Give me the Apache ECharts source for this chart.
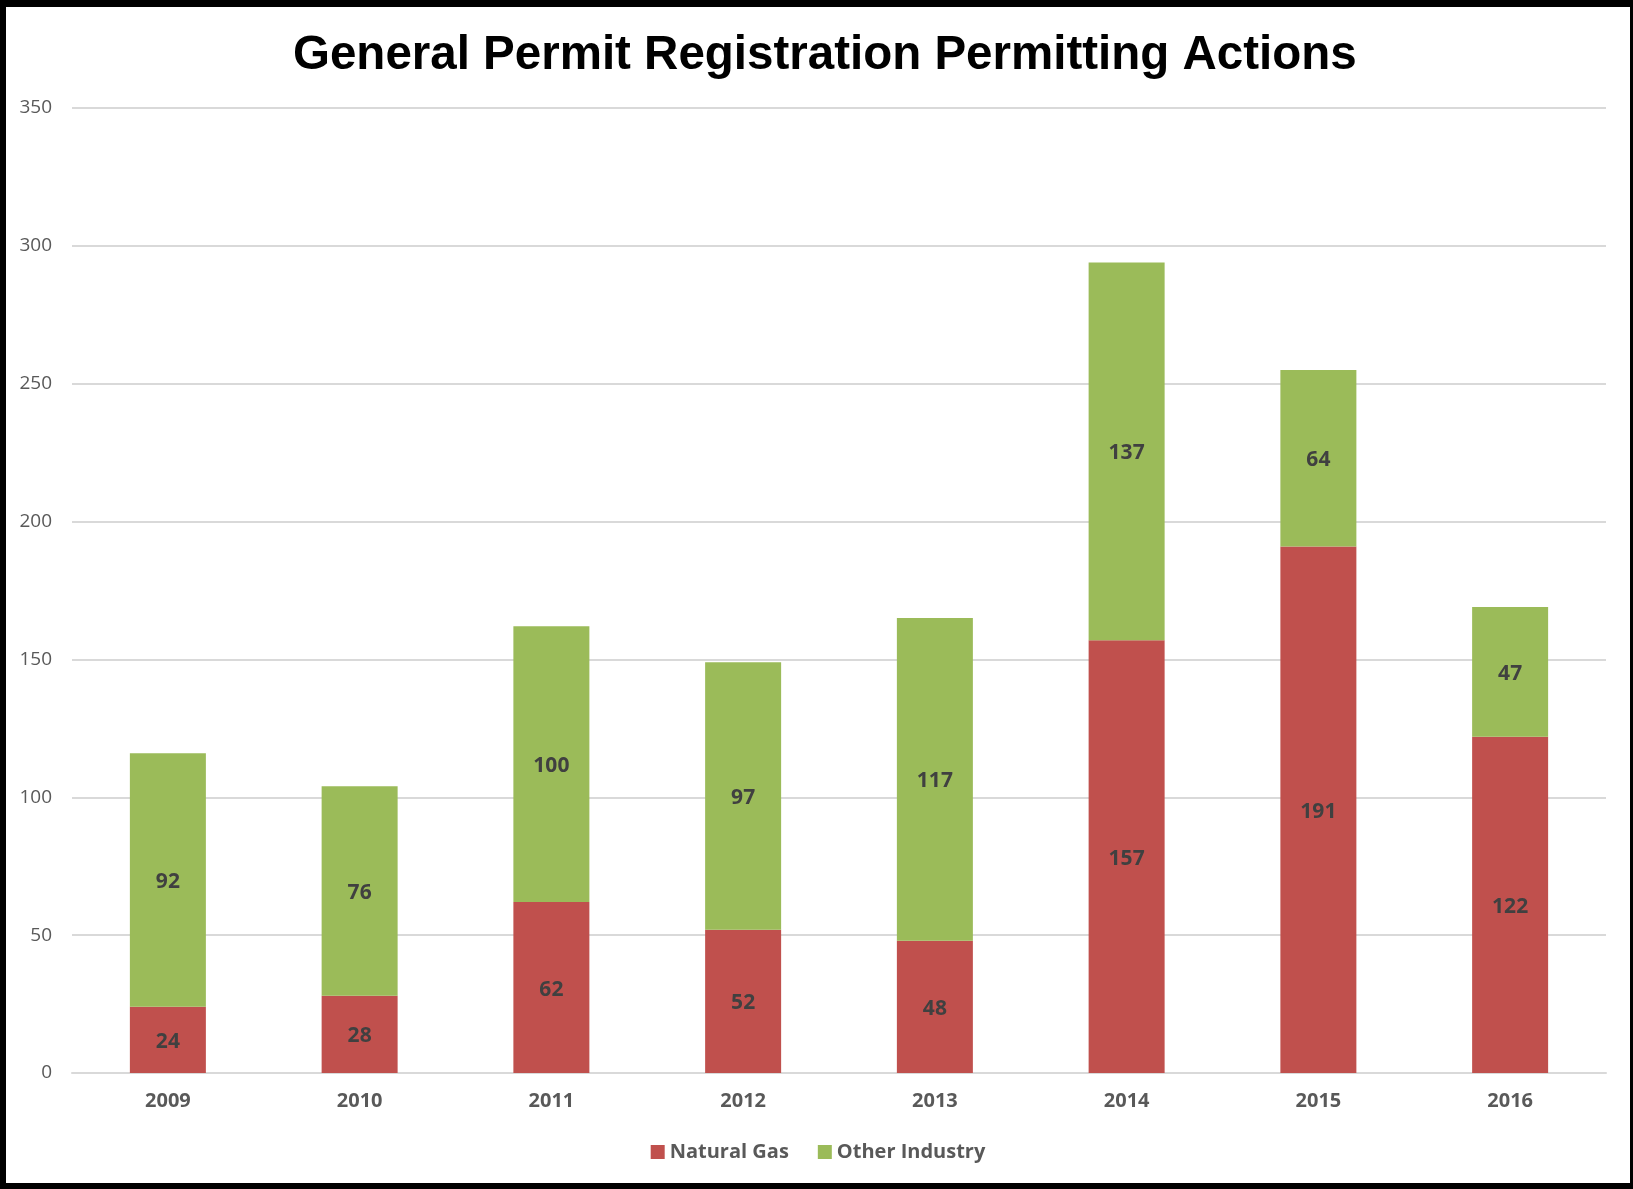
<!DOCTYPE html>
<html>
<head>
<meta charset="utf-8">
<script src="https://cdn.jsdelivr.net/npm/echarts@6/dist/echarts.min.js"></script>
<style>
	html, body { margin: 0; padding: 0; background: #000; }
	#permitChart { position: absolute; left: 6px; top: 7px; width: 1624px; height: 1176px; background: #fff; }
</style>
</head>
<body>
<div id="permitChart"></div>
<script>
// data
var years = ['2009', '2010', '2011', '2012', '2013', '2014', '2015', '2016'];
var naturalGas = [24, 28, 62, 52, 48, 157, 191, 122];
var otherIndustry = [92, 76, 100, 97, 117, 137, 64, 47];

var permitChart = echarts.init(document.getElementById('permitChart'));
var labelFont = '"Open Sans", sans-serif';

var barLabel = {
	show: true,
	position: 'inside',
	offset: [0, 2],
	color: '#404040',
	fontWeight: 'bold',
	fontSize: 21,
	fontFamily: labelFont
};

var opt = {
	animation: false,
	title: {
		text: 'General Permit Registration Permitting Actions',
		left: 282,
		top: 20,
		textStyle: {
			color: '#000',
			fontSize: 47.5,
			fontWeight: 'bold',
			fontFamily: '"Liberation Sans", Arial, sans-serif'
		}
	},
	legend: {
		bottom: 16,
		left: 'center',
		padding: [5, 5, 5, 18],
		itemWidth: 14,
		itemHeight: 14,
		itemGap: 29,
		icon: 'rect',
		textStyle: {
			color: '#595959',
			fontSize: 20,
			fontWeight: 'bold',
			fontFamily: labelFont
		},
		data: ['Natural Gas', 'Other Industry']
	},
	grid: {
		left: 66,
		right: 24,
		top: 101,
		bottom: 110,
		containLabel: false
	},
	xAxis: {
		type: 'category',
		data: years,
		axisTick: { show: false },
		axisLine: { lineStyle: { color: '#d9d9d9', width: 2 } },
		axisLabel: {
			color: '#595959',
			fontSize: 20,
			fontWeight: 'bold',
			fontFamily: labelFont,
			margin: 18
		}
	},
	yAxis: {
		type: 'value',
		min: 0,
		max: 350,
		interval: 50,
		axisLine: { show: false },
		axisTick: { show: false },
		splitLine: { lineStyle: { color: '#d9d9d9', width: 2 } },
		axisLabel: {
			color: '#595959',
			fontSize: 19,
			fontFamily: labelFont,
			margin: 20
		}
	},
	series: [
		{
			name: 'Natural Gas',
			type: 'bar',
			stack: 'total',
			barWidth: 76,
			itemStyle: { color: '#C0504D' },
			label: barLabel,
			data: naturalGas
		},
		{
			name: 'Other Industry',
			type: 'bar',
			stack: 'total',
			barWidth: 76,
			itemStyle: { color: '#9BBB59' },
			label: barLabel,
			data: otherIndustry
		}
	]
};
permitChart.setOption(opt);
</script>
</body>
</html>
